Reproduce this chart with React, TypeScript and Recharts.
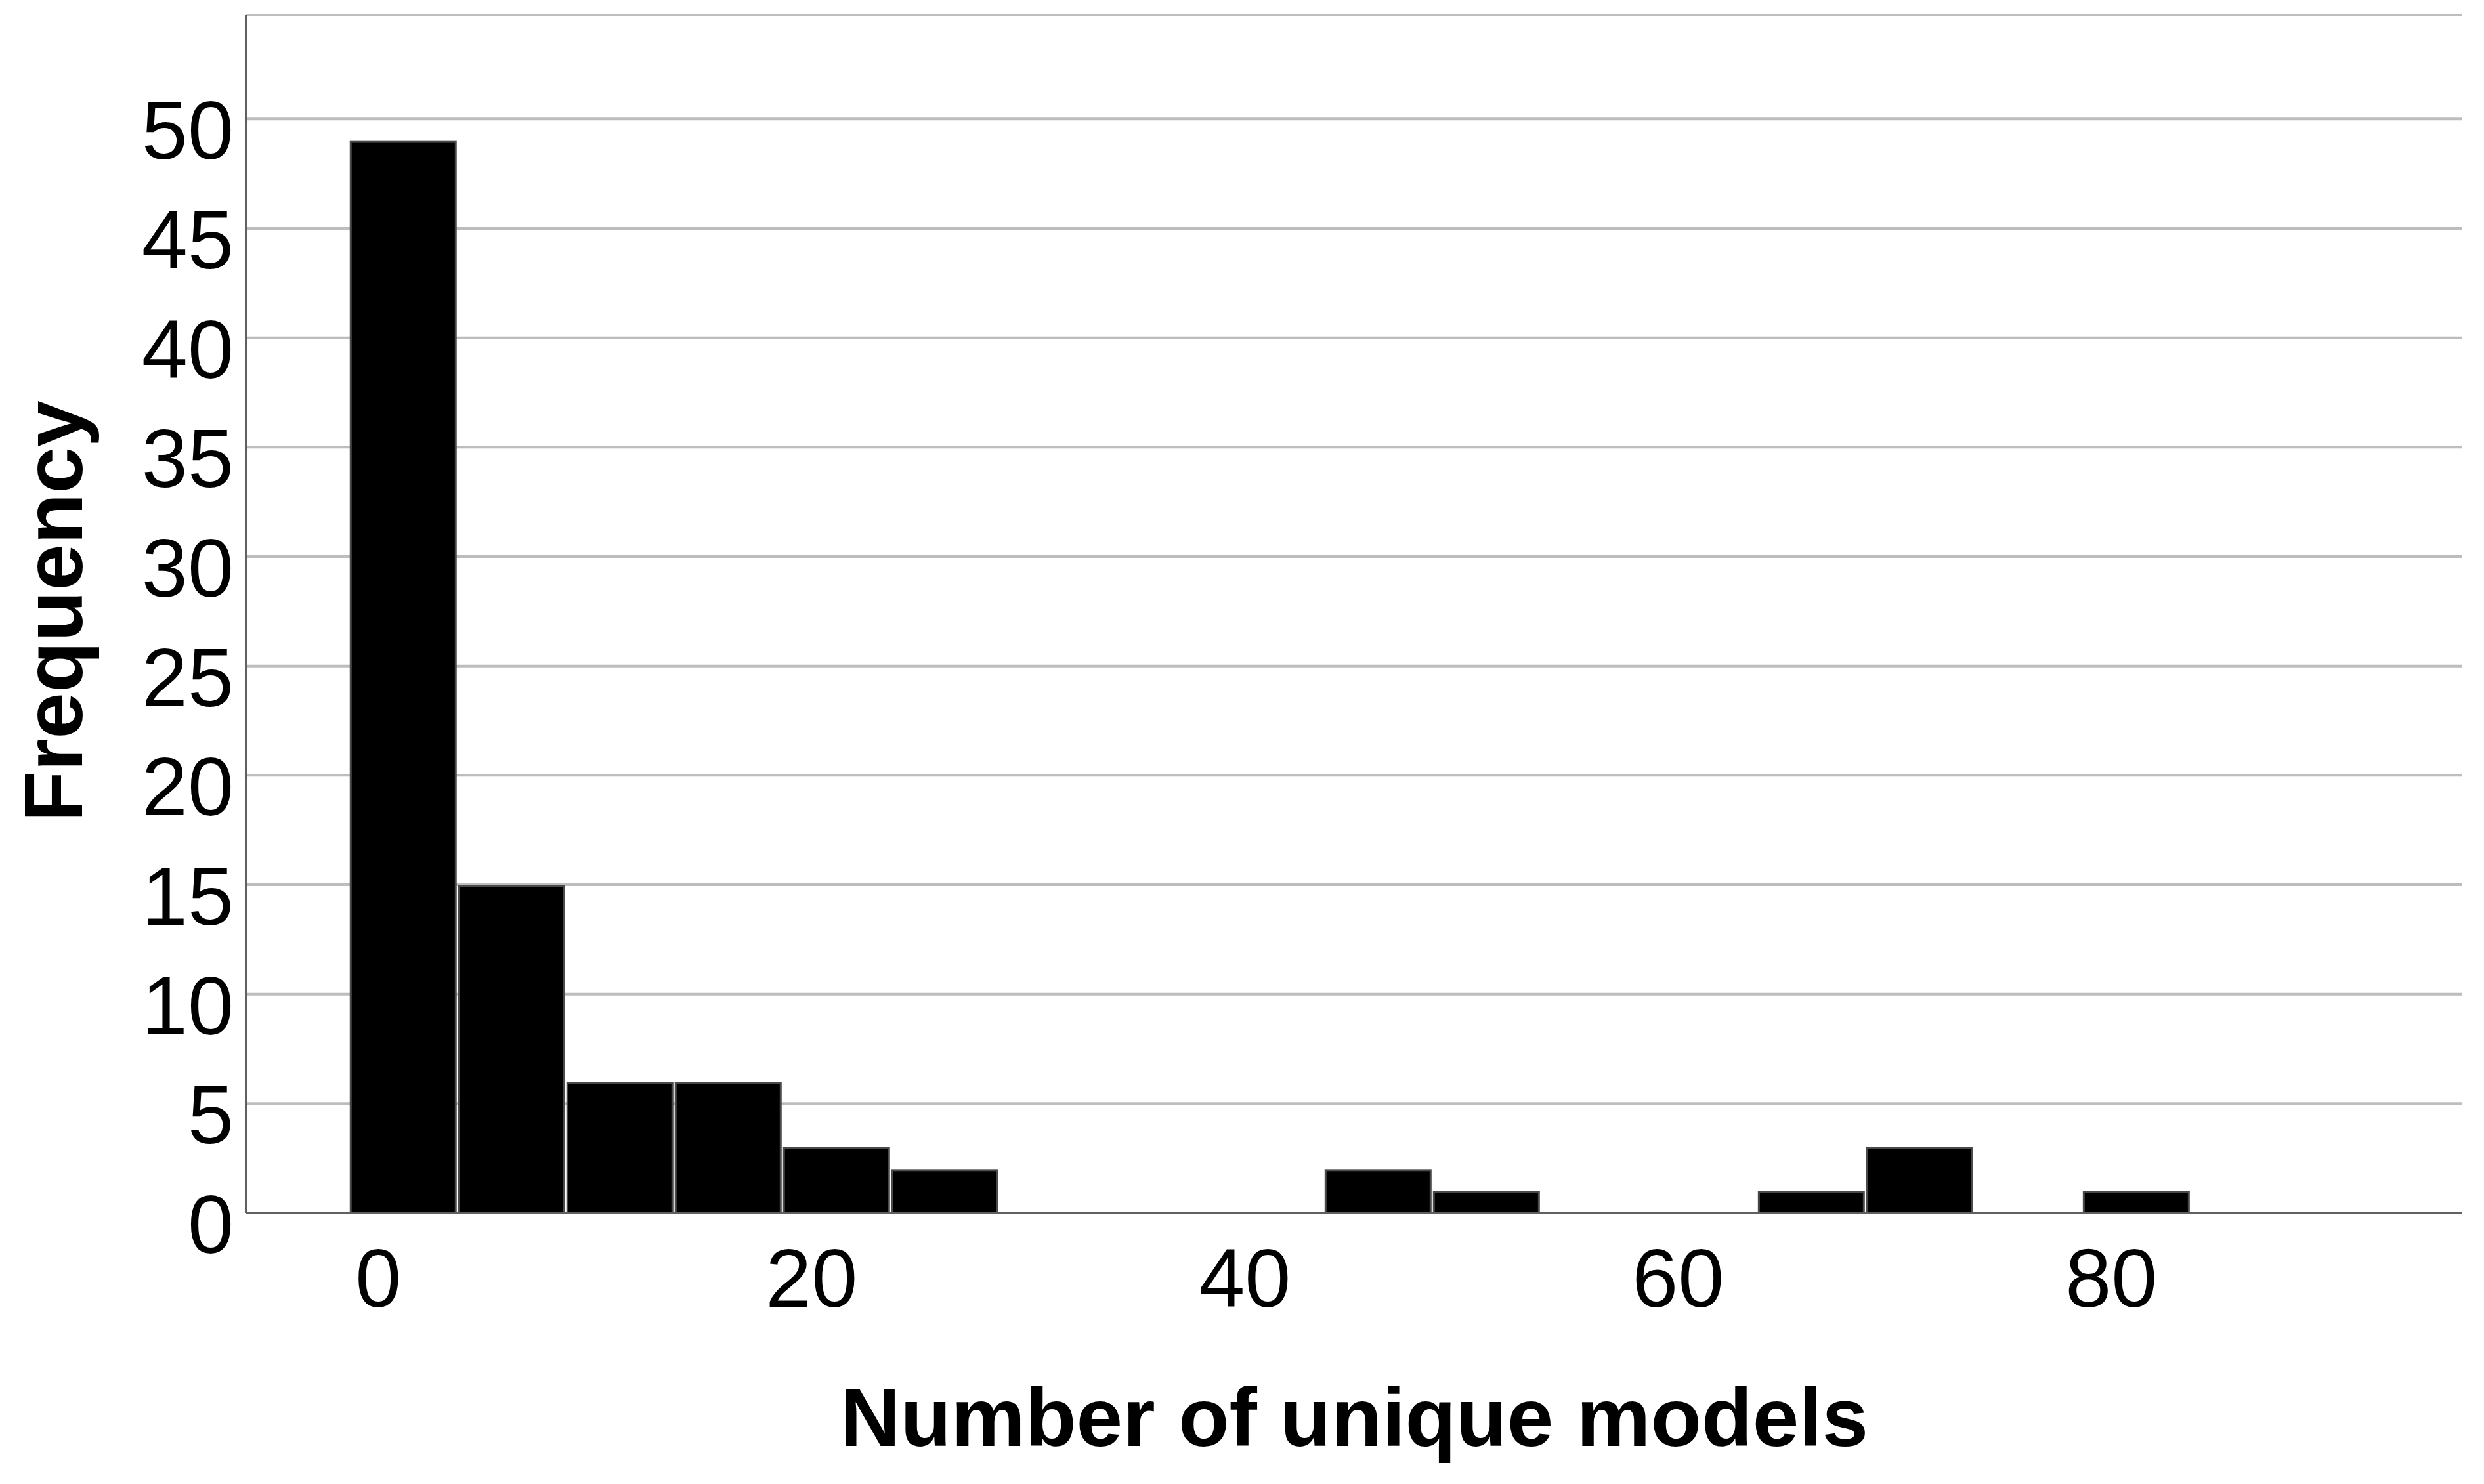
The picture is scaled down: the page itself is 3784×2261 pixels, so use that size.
import React from 'react';
import { BarChart, Bar, XAxis, YAxis, CartesianGrid } from 'recharts';

// Histogram bins (bin centre on the "Number of unique models" axis) and frequencies
const binCenters = [1.15, 6.15, 11.15, 16.15, 21.15, 26.15, 31.15, 36.15, 41.15, 46.15, 51.15, 56.15, 61.15, 66.15, 71.15, 76.15, 81.15];
const frequencies = [49, 15, 6, 6, 3, 2, 0, 0, 0, 2, 1, 0, 0, 1, 3, 0, 1];
const xTicks = [0, 20, 40, 60, 80];
const yTicks = [0, 5, 10, 15, 20, 25, 30, 35, 40, 45, 50];

const data = binCenters.map((c, i) => ({ center: c, freq: frequencies[i] }));

const FONT = '"Liberation Sans", Arial, Helvetica, sans-serif';

const BarShape = (props: any) => {
  const { x, y, width, height } = props;
  if (!height || height <= 0) return <g />;
  const inset = 2.5;
  return (
    <rect
      x={x + inset}
      y={y + 1.5}
      width={Math.max(0, width - inset * 2)}
      height={height - 1.5}
      fill="#000000"
      stroke="#4a4a4a"
      strokeWidth={3}
    />
  );
};

const XTick = (props: any) => {
  const { x, y, payload } = props;
  return (
    <text x={x} y={y} dy={143} textAnchor="middle" fontFamily={FONT} fontSize={126} fill="#000">
      {payload.value}
    </text>
  );
};

const YTick = (props: any) => {
  const { x, y, payload } = props;
  return (
    <text x={x} y={y} dy={61} textAnchor="end" fontFamily={FONT} fontSize={126} fill="#000">
      {payload.value}
    </text>
  );
};

const XTitle = (props: any) => {
  const vb = props.viewBox || {};
  return (
    <text
      x={vb.x + vb.width / 2}
      y={vb.y + 355}
      textAnchor="middle"
      fontFamily={FONT}
      fontWeight="bold"
      fontSize={127}
      fill="#000"
    >
      Number of unique models
    </text>
  );
};

const YTitle = (props: any) => {
  const vb = props.viewBox || {};
  const cx = 125;
  const cy = vb.y + vb.height / 2 - 4;
  return (
    <text
      x={cx}
      y={cy}
      transform={`rotate(-90, ${cx}, ${cy})`}
      textAnchor="middle"
      fontFamily={FONT}
      fontWeight="bold"
      fontSize={127}
      fill="#000"
    >
      Frequency
    </text>
  );
};

export default function App() {
  return (
    <div style={{ position: 'absolute', left: 0, top: 0, width: 3784, height: 2261, background: '#fff' }}>
      <BarChart
        width={3784}
        height={2261}
        data={data}
        margin={{ top: 23, right: 33, bottom: 0, left: 0 }}
        barCategoryGap={0}
        barGap={0}
      >
        <CartesianGrid vertical={false} stroke="#bdbdbd" strokeWidth={4} />
        <XAxis
          type="number"
          dataKey="center"
          domain={[-6.1, 96.2]}
          ticks={xTicks}
          allowDataOverflow
          height={413}
          tickLine={false}
          tickSize={0}
          tickMargin={0}
          axisLine={{ stroke: '#606060', strokeWidth: 4 }}
          tick={<XTick />}
          label={<XTitle />}
        />
        <YAxis
          type="number"
          domain={[0, 54.75]}
          ticks={yTicks}
          allowDataOverflow
          width={375}
          tickLine={false}
          tickSize={0}
          tickMargin={19}
          axisLine={{ stroke: '#606060', strokeWidth: 4 }}
          tick={<YTick />}
          label={<YTitle />}
        />
        <Bar dataKey="freq" shape={<BarShape />} isAnimationActive={false} />
      </BarChart>
    </div>
  );
}
